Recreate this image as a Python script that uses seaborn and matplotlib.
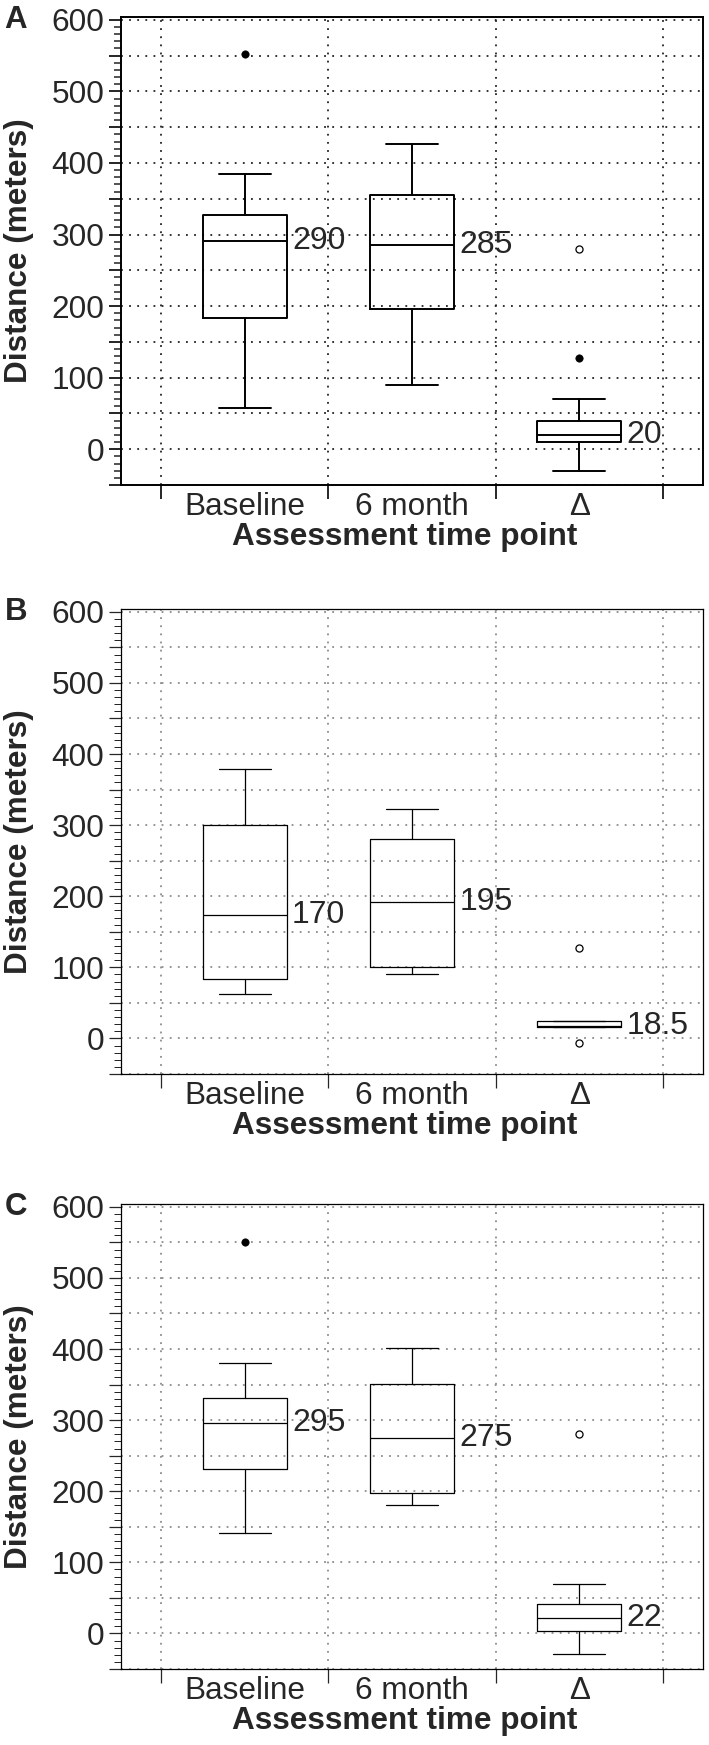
import pandas as pd
import seaborn as sns
import matplotlib.pyplot as plt
from matplotlib.ticker import MultipleLocator, FuncFormatter

groups = ["Baseline", "6 month", "Δ"]

# panel A
a_low = [58, 90, -30]
a_q1 = [184, 196, 10]
a_med = [291, 286, 20]
a_q3 = [327, 355, 40]
a_high = [385, 426, 70]
a_med_text = ["290", "285", "20"]
a_dot_group = ["Baseline", "Δ"]
a_dot_value = [552, 127]
a_ring_group = ["Δ"]
a_ring_value = [280]

# panel B
b_low = [62, 90, 16]
b_q1 = [83, 100, 16]
b_med = [174, 192, 18]
b_q3 = [300, 280, 25]
b_high = [379, 323, 25]
b_med_text = ["170", "195", "18.5"]
b_dot_group = []
b_dot_value = []
b_ring_group = ["Δ", "Δ"]
b_ring_value = [127, -7]

# panel C
c_low = [141, 180, -29]
c_q1 = [231, 198, 3]
c_med = [296, 275, 22]
c_q3 = [331, 351, 41]
c_high = [381, 402, 70]
c_med_text = ["295", "275", "22"]
c_dot_group = ["Baseline"]
c_dot_value = [551]
c_ring_group = ["Δ"]
c_ring_value = [281]

sns.set_theme(style="white")
plt.rcParams['font.family'] = ['Liberation Sans', 'DejaVu Sans']

W, H = 709, 1745
fig = plt.figure(figsize=(W / 100, H / 100), dpi=100)


def draw_panel(top, bottom, letter, low, q1, med, q3, high, med_text,
               dot_group, dot_value, ring_group, ring_value, lw, grid_color):
    ax = fig.add_axes([121 / W, 1 - bottom / H, (703 - 121) / W, (bottom - top) / H])
    pos = [1, 2, 3]
    stats = [dict(whislo=low[i], q1=q1[i], med=med[i], q3=q3[i], whishi=high[i], label=groups[i])
             for i in range(3)]
    line = dict(color='black', linewidth=lw)
    ax.bxp(stats, positions=pos, widths=0.5, capwidths=0.31, showfliers=False,
           boxprops=line, whiskerprops=line, capprops=line, medianprops=line)

    dots = pd.DataFrame({'x': [groups.index(g) + 1 for g in dot_group], 'y': dot_value})
    rings = pd.DataFrame({'x': [groups.index(g) + 1 for g in ring_group], 'y': ring_value})
    if len(dots):
        sns.scatterplot(data=dots, x='x', y='y', ax=ax, color='black', s=28,
                        edgecolor='black', linewidth=0.5, zorder=5)
    if len(rings):
        sns.scatterplot(data=rings, x='x', y='y', ax=ax, facecolor='white', s=26,
                        edgecolor='black', linewidth=0.9, zorder=5)

    for i in range(3):
        ax.annotate(med_text[i], xy=(pos[i] + 0.25, med[i]), xytext=(4, 0),
                    textcoords='offset points', va='center', ha='left', fontsize=23)

    ax.set_xlim(0.26, 3.74)
    ax.set_ylim(-50, 604)
    ax.set_xticks(pos)
    ax.set_xticklabels(groups, fontsize=22.7)
    ax.set_xticks([0.5, 1.5, 2.5, 3.5], minor=True)
    ax.yaxis.set_major_locator(MultipleLocator(50))
    ax.yaxis.set_minor_locator(MultipleLocator(10))
    ax.yaxis.set_major_formatter(FuncFormatter(lambda v, p: f"{v:.0f}" if v % 100 == 0 else ""))
    ax.tick_params(axis='y', which='major', length=9, width=lw, labelsize=22.7, pad=3, left=True)
    ax.tick_params(axis='y', which='minor', length=5, width=lw * 0.8, left=True)
    ax.tick_params(axis='x', which='major', length=0, pad=5)
    ax.tick_params(axis='x', which='minor', length=10, width=lw, bottom=True)

    ax.grid(False)
    ax.grid(axis='y', which='major', color=grid_color, linestyle=(0, (1, 3.5)), linewidth=1.3)
    ax.grid(axis='x', which='minor', color=grid_color, linestyle=(0, (1, 3.5)), linewidth=1.3)
    ax.set_axisbelow(True)
    for s in ax.spines.values():
        s.set_color('black')
        s.set_linewidth(lw)

    ax.set_xlabel("Assessment time point", fontsize=22.7, fontweight='bold')
    ax.set_ylabel("Distance (meters)", fontsize=22.7, fontweight='bold')
    ax.xaxis.set_label_coords(0.488, -0.079)
    ax.yaxis.set_label_coords(-0.150, 0.5)
    fig.text(16 / W, 1 - (top + 3) / H, letter, ha='center', va='center',
             fontsize=22.5, fontweight='bold')
    return ax


draw_panel(17, 485, "A", a_low, a_q1, a_med, a_q3, a_high, a_med_text,
           a_dot_group, a_dot_value, a_ring_group, a_ring_value, 1.4, '#222222')
draw_panel(609, 1074, "B", b_low, b_q1, b_med, b_q3, b_high, b_med_text,
           b_dot_group, b_dot_value, b_ring_group, b_ring_value, 0.9, '#8c8c8c')
draw_panel(1204, 1669, "C", c_low, c_q1, c_med, c_q3, c_high, c_med_text,
           c_dot_group, c_dot_value, c_ring_group, c_ring_value, 0.9, '#8c8c8c')

fig.savefig("out.png", dpi=100)
